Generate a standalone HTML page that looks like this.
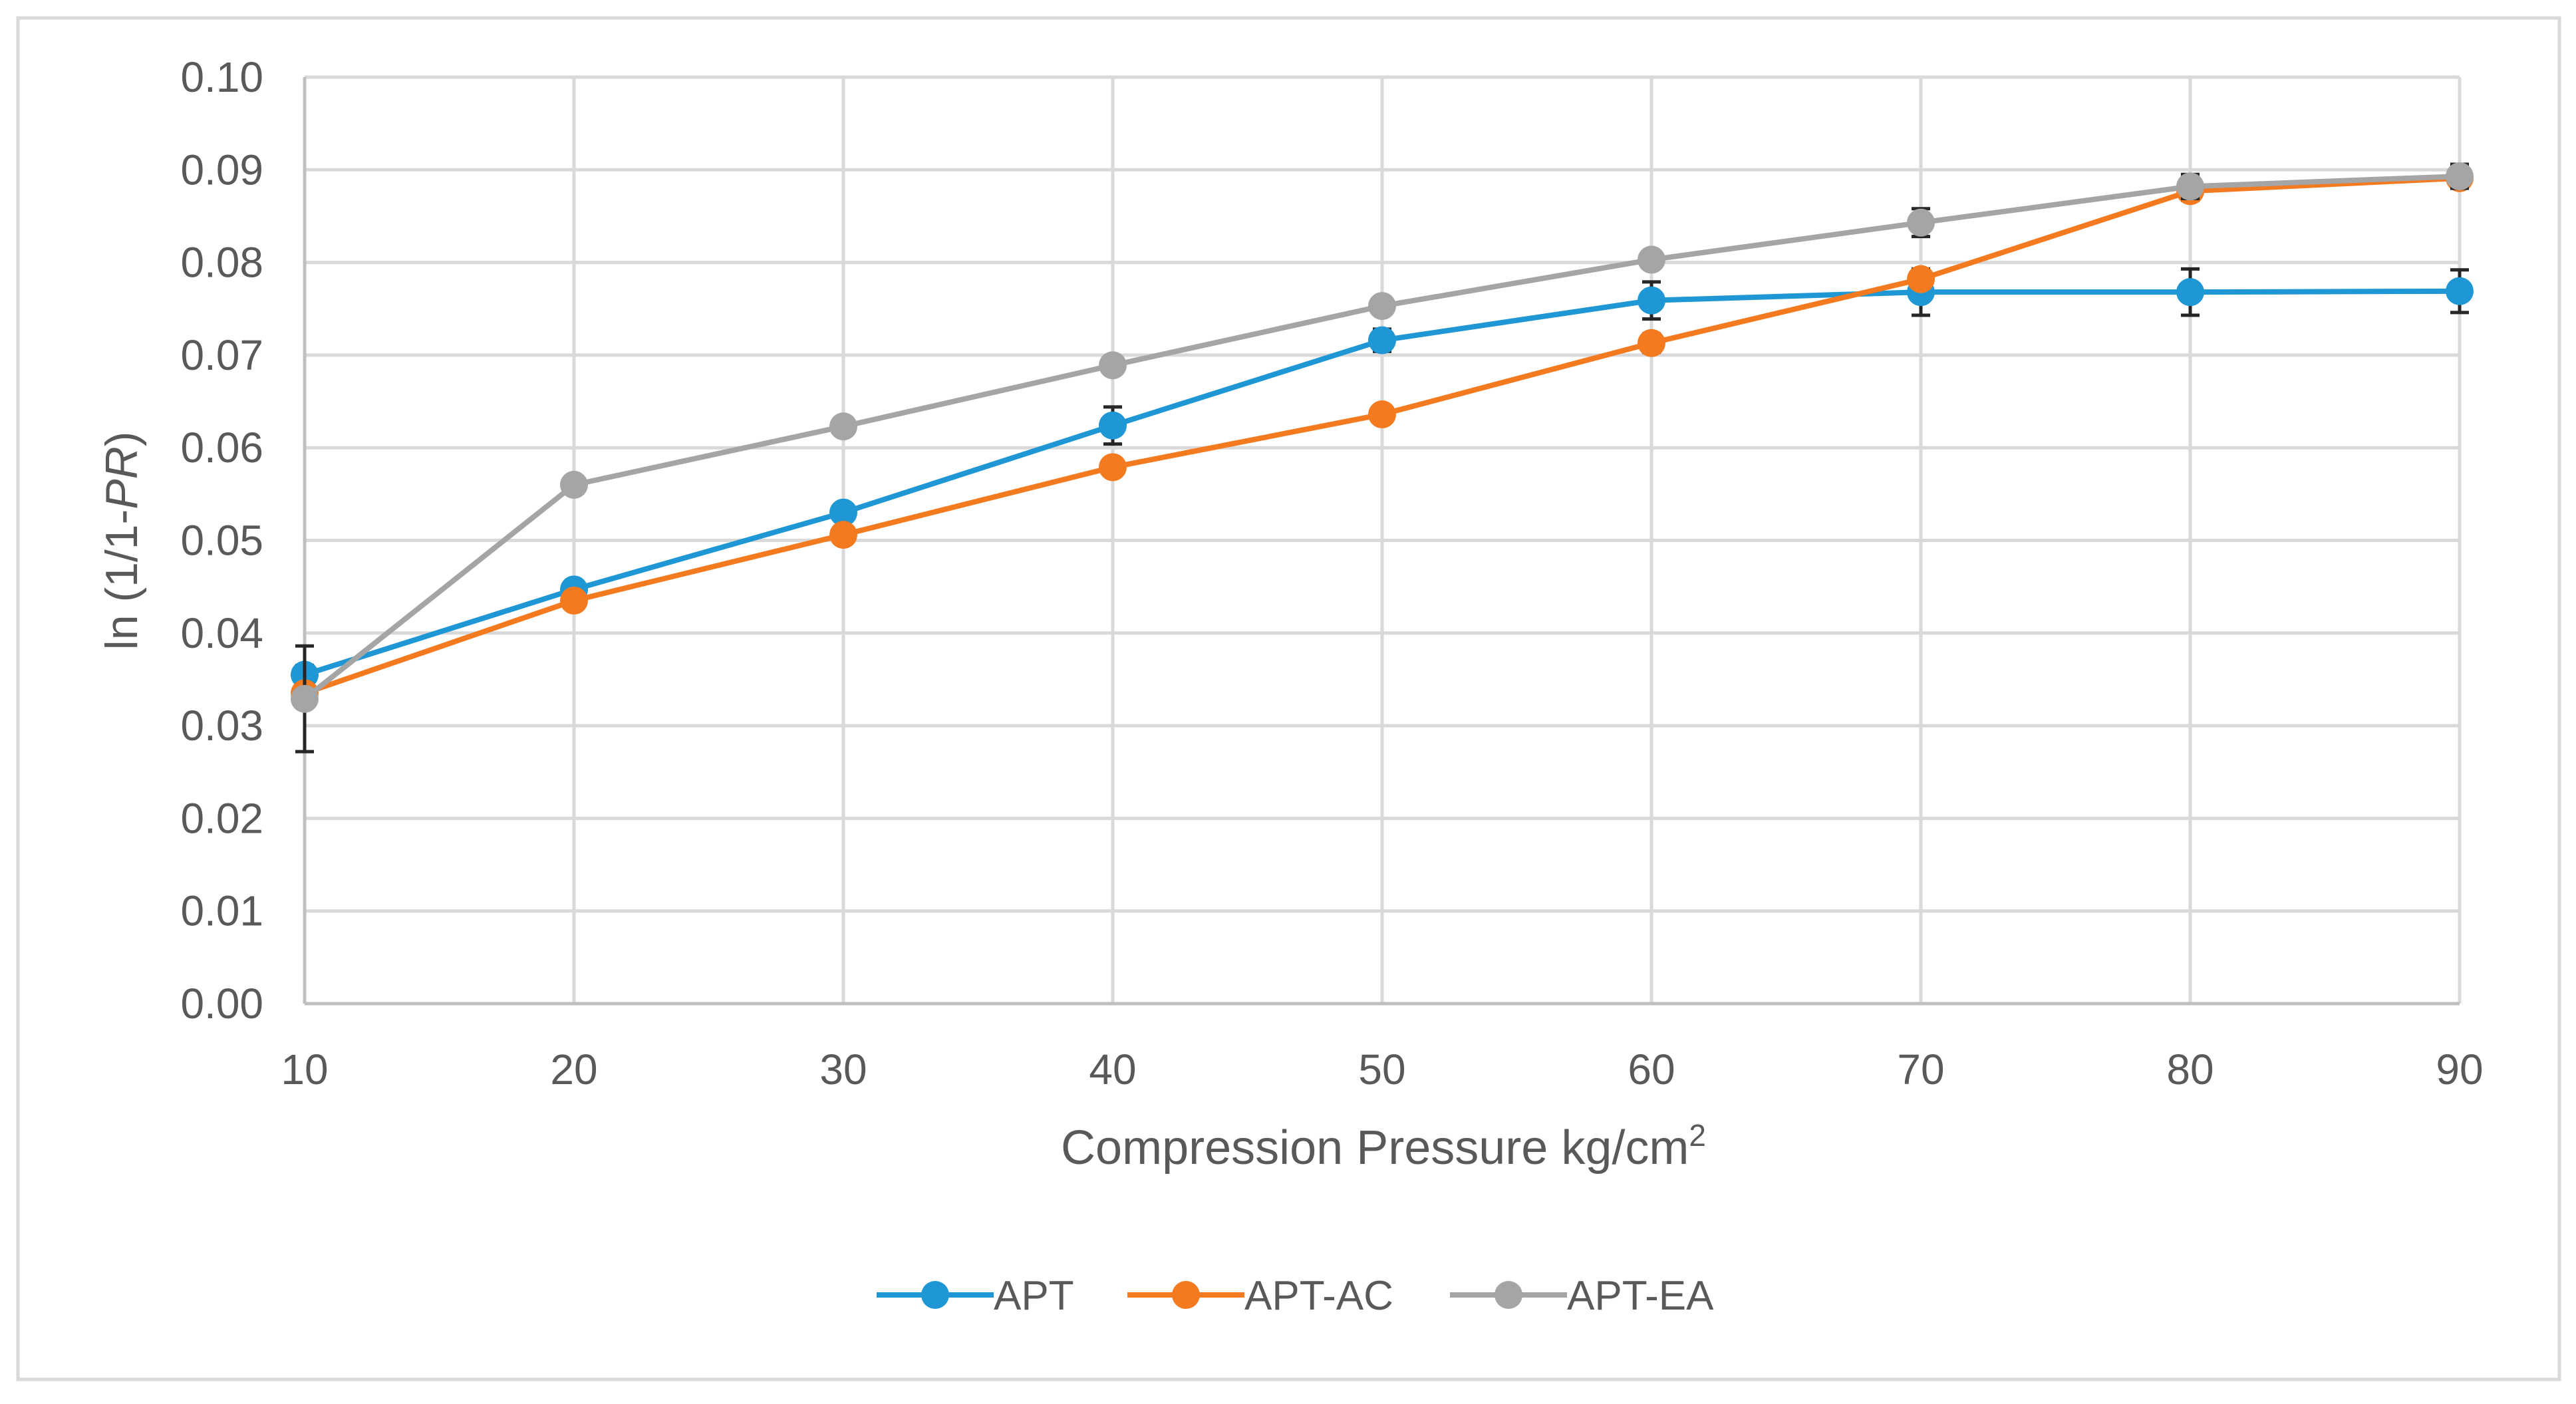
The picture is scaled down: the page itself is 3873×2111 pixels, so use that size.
<!DOCTYPE html>
<html><head><meta charset="utf-8"><style>
html,body{margin:0;padding:0;background:#fff;}
svg text{font-family:"Liberation Sans",sans-serif;fill:#595959;}
</style></head><body>
<svg id="chart" width="3873" height="2106" viewBox="0 0 3873 2106" xmlns="http://www.w3.org/2000/svg">
<rect x="27" y="27" width="3821" height="2047" fill="#fff" stroke="#d9d9d9" stroke-width="5"/>
<g id="grid"></g><g id="series"></g><g id="labels"></g>
<text transform="translate(206,813) rotate(-90)" text-anchor="middle" font-size="68">ln (1/1-<tspan font-style="italic">PR</tspan>)</text>
<text x="2080" y="1750" text-anchor="middle" font-size="72">Compression Pressure kg/cm<tspan font-size="46" dy="-27">2</tspan></text>
<g id="legend"></g>
</svg>
<script>
const categories=[10,20,30,40,50,60,70,80,90];
const yTicks=[0,0.01,0.02,0.03,0.04,0.05,0.06,0.07,0.08,0.09,0.10];
const seriesNames=["APT","APT-AC","APT-EA"];
const aptValues=[0.0355,0.0447,0.0530,0.0624,0.0716,0.0759,0.0768,0.0768,0.0769];
const acValues=[0.0335,0.0435,0.0506,0.0579,0.0636,0.0713,0.0782,0.0877,0.0891];
const eaValues=[0.0329,0.0560,0.0623,0.0689,0.0753,0.0803,0.0843,0.0882,0.0893];
const aptErr=[0.0010,0.0005,0.0005,0.0020,0.0012,0.0020,0.0025,0.0025,0.0023];
const acErr=[0.0010,0.0005,0.0005,0.0005,0.0005,0.0010,0.0008,0.0010,0.0005];
const eaErr=[0.0057,0.0005,0.0005,0.0005,0.0005,0.0005,0.0015,0.0013,0.0013];
const colors=["#1f97d4","#f47a20","#a5a5a5"];
const L=458,R=3698,T=116,B=1509;
const NS="http://www.w3.org/2000/svg";
function xs(v){return L+(v-10)/(80)*(R-L);}
function ys(v){return B-v/0.10*(B-T);}
function mk(tag,attrs,parent){const e=document.createElementNS(NS,tag);for(const k in attrs)e.setAttribute(k,attrs[k]);parent.appendChild(e);return e;}
const grid=document.getElementById('grid'),lab=document.getElementById('labels'),ser=document.getElementById('series'),leg=document.getElementById('legend');
yTicks.forEach(t=>{
 const l=mk('line',{x1:L,x2:R,y1:ys(t),y2:ys(t),stroke:'#d9d9d9','stroke-width':5},grid);
 
 
 const tx=mk('text',{x:396,y:ys(t)+22,'text-anchor':'end','font-size':64},lab);tx.textContent=t.toFixed(2);
 
 
});
categories.forEach(c=>{
 const l=mk('line',{x1:xs(c),x2:xs(c),y1:T,y2:B,stroke:'#d9d9d9','stroke-width':5},grid);
 
 
 const tx=mk('text',{x:xs(c),y:1630,'text-anchor':'middle','font-size':64},lab);tx.textContent=c;
 
 
});
const ax=mk('line',{x1:L,x2:L,y1:T,y2:B,stroke:'#bfbfbf','stroke-width':5},grid);


const bx=mk('line',{x1:L,x2:R,y1:B,y2:B,stroke:'#bfbfbf','stroke-width':5},grid);


const all=[[aptValues,aptErr],[acValues,acErr],[eaValues,eaErr]];
all.forEach(([vals,errs],si)=>{
 const g=mk('g',{},ser);
 
 
 const pts=vals.map((v,i)=>xs(categories[i])+','+ys(v)).join(' ');
 const pl=mk('polyline',{points:pts,fill:'none',stroke:colors[si],'stroke-width':8},g);
 
 
 vals.forEach((v,i)=>{
  const x=xs(categories[i]),y1=ys(v+errs[i]),y2=ys(v-errs[i]);
  const e=mk('path',{d:`M${x},${y1}V${y2}M${x-14},${y1}H${x+14}M${x-14},${y2}H${x+14}`,stroke:'#262626','stroke-width':5,fill:'none'},g);
  
  
 });
 vals.forEach((v,i)=>{
  const c=mk('circle',{cx:xs(categories[i]),cy:ys(v),r:21,fill:colors[si]},g);
  
  
 });
});
const legX=[1318,1695,2180];
seriesNames.forEach((n,i)=>{
 const g=mk('g',{},leg);
 
 
 mk('line',{x1:legX[i],x2:legX[i]+176,y1:1947,y2:1947,stroke:colors[i],'stroke-width':8},g);
 mk('circle',{cx:legX[i]+88,cy:1947,r:21,fill:colors[i]},g);
 const t=mk('text',{x:legX[i]+176,y:1969,'font-size':62},g);t.textContent=n;
});
</script>
</body></html>
